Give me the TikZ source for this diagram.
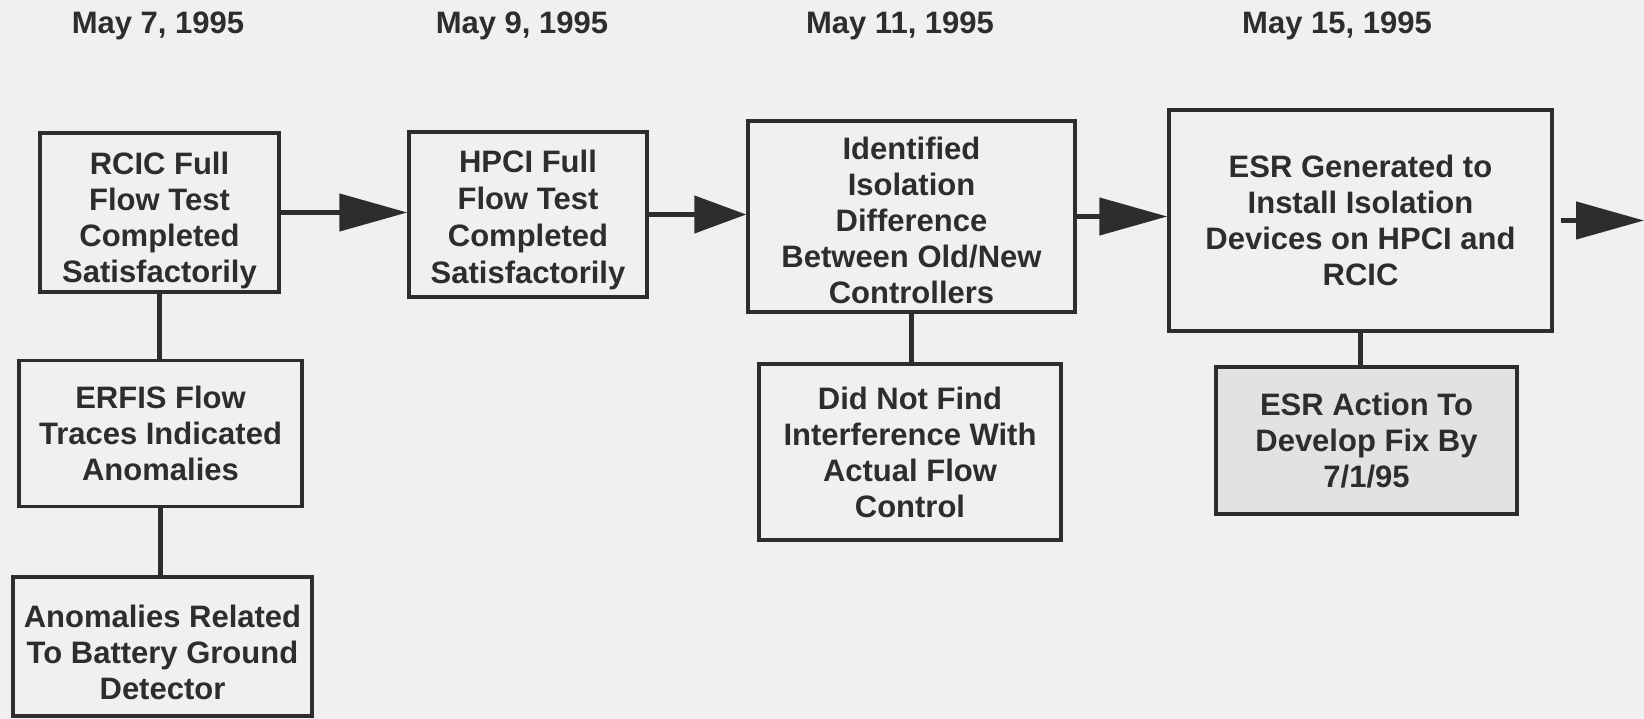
\documentclass[tikz,border=0pt]{standalone}
\usepackage{fontspec}
\setmainfont{Liberation Sans}
\usetikzlibrary{arrows.meta}
\definecolor{bg}{RGB}{240,240,240}
\definecolor{ink}{RGB}{45,45,45}
\definecolor{shade}{RGB}{226,226,226}
\newcommand\toppad[1]{\rule{0pt}{#1}}
\begin{document}
\begin{tikzpicture}[x=1pt,y=-1pt,
  box/.style={draw=ink, line width=3.5pt, align=center, text=ink, inner sep=0pt,
    font=\bfseries\fontsize{31}{36}\selectfont},
  link/.style={draw=ink, line width=4.5pt},
  flow/.style={link, -{Triangle[length=68pt,width=37pt]}},
  shortflow/.style={link, -{Triangle[length=52pt,width=37pt]}},
  datelabel/.style={font=\bfseries\fontsize{31}{36}\selectfont, text=ink, inner sep=0pt}]
\fill[bg] (0,0) rectangle (1644,719);
\useasboundingbox (0,0) rectangle (1644,719);

% dates
\node[datelabel] (d1) at (158,26) {May 7, 1995};
\node[datelabel] (d2) at (522,26) {May 9, 1995};
\node[datelabel] (d3) at (900,26) {May 11, 1995};
\node[datelabel] (d4) at (1337,26) {May 15, 1995};

% main row
\node[box, minimum width=239pt, minimum height=159pt] (rcic) at (159.5,212.5)
  {\toppad{38pt}RCIC Full\\Flow Test\\Completed\\Satisfactorily};
\node[box, minimum width=238pt, minimum height=165pt,
  font=\bfseries\fontsize{31}{37}\selectfont] (hpci) at (528,214.5)
  {\toppad{33pt}HPCI Full\\Flow Test\\Completed\\Satisfactorily};
\node[box, minimum width=327pt, minimum height=191pt] (ident) at (911.5,216.5)
  {\toppad{31pt}Identified\\Isolation\\Difference\\Between Old/New\\Controllers};
\node[box, minimum width=383pt, minimum height=221pt] (esr) at (1360.5,220.5)
  {ESR Generated to\\Install Isolation\\Devices on HPCI and\\RCIC};

% lower boxes
\node[box, minimum width=283pt, minimum height=146pt] (erfis) at (160.5,433.5)
  {ERFIS Flow\\Traces Indicated\\Anomalies};
\node[box, minimum width=299pt, minimum height=139pt] (anom) at (162.5,646.5)
  {\toppad{34pt}Anomalies Related\\To Battery Ground\\Detector};
\node[box, minimum width=302pt, minimum height=176pt] (dnf) at (910,452)
  {Did Not Find\\Interference With\\Actual Flow\\Control};
\node[box, fill=shade, minimum width=301pt, minimum height=147pt] (act) at (1366.5,440.5)
  {ESR Action To\\Develop Fix By\\7/1/95};

% arrows
\coordinate (out) at (1644,221);
\draw[flow] (rcic.east) -- (rcic.east -| hpci.west);
\draw[shortflow] (hpci.east) -- (hpci.east -| ident.west);
\draw[flow] (ident.east) -- (ident.east -| esr.west);
\draw[flow] ([xshift=7pt]esr.east) -- (esr.east -| out);

% vertical links
\draw[link] (rcic.south) -- (rcic.south |- erfis.north);
\draw[link] (erfis.south) -- (erfis.south |- anom.north);
\draw[link] (ident.south) -- (ident.south |- dnf.north);
\draw[link] (esr.south) -- (esr.south |- act.north);
\end{tikzpicture}
\end{document}
